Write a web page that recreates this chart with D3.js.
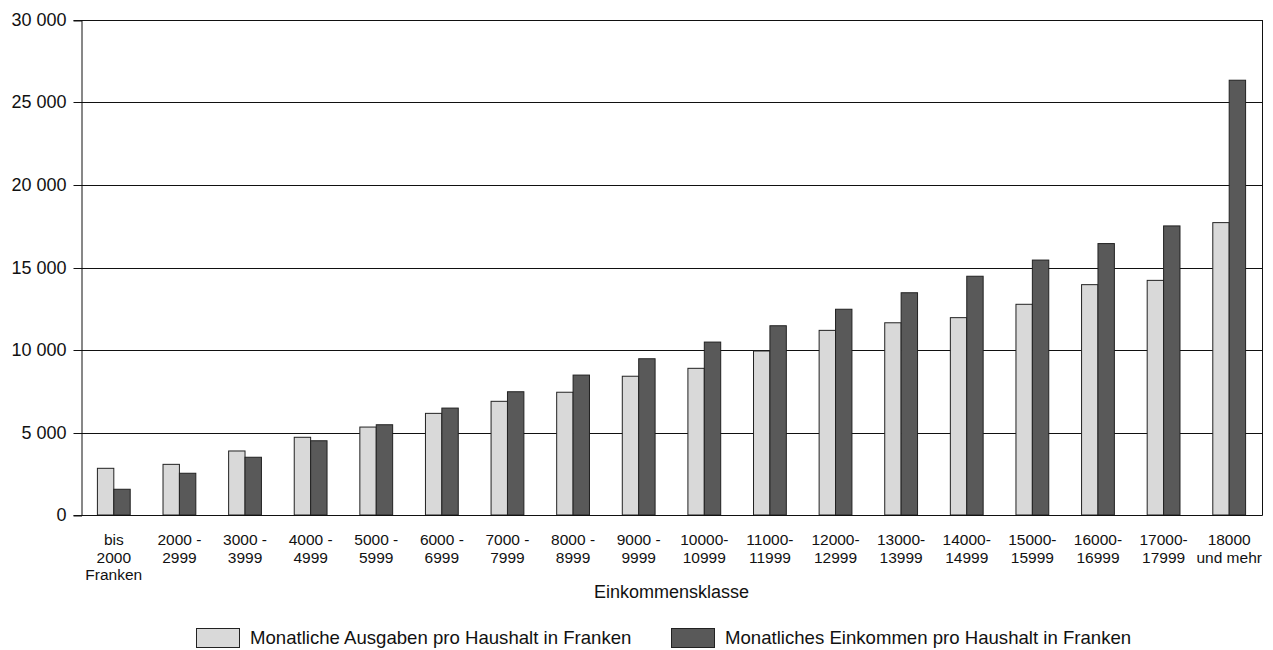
<!DOCTYPE html>
<html>
<head>
<meta charset="utf-8">
<script src="https://cdn.jsdelivr.net/npm/d3@7"></script>
<style>
  html, body { margin: 0; padding: 0; background: #fff; }
  svg { display: block; font-family: "Liberation Sans", Arial, Helvetica, sans-serif; }
</style>
</head>
<body>
<svg id="chart" width="1273" height="650"></svg>
<script>
const categories = [
  ["bis", "2000", "Franken"], ["2000 -", "2999"], ["3000 -", "3999"], ["4000 -", "4999"],
  ["5000 -", "5999"], ["6000 -", "6999"], ["7000 -", "7999"], ["8000 -", "8999"],
  ["9000 -", "9999"], ["10000-", "10999"], ["11000-", "11999"], ["12000-", "12999"],
  ["13000-", "13999"], ["14000-", "14999"], ["15000-", "15999"], ["16000-", "16999"],
  ["17000-", "17999"], ["18000", "und mehr"]
];
const ausgaben = [2830, 3070, 3880, 4710, 5330, 6160, 6890, 7440, 8410, 8890, 9940, 11190, 11650, 11960, 12770, 13960, 14220, 17720];
const einkommen = [1560, 2530, 3500, 4500, 5470, 6480, 7470, 8480, 9470, 10480, 11470, 12470, 13470, 14470, 15450, 16450, 17520, 26350];
const seriesNames = ["Monatliche Ausgaben pro Haushalt in Franken", "Monatliches Einkommen pro Haushalt in Franken"];
const yTicks = [0, 5000, 10000, 15000, 20000, 25000, 30000];
const xTitle = "Einkommensklasse";

const colors = ["#d9d9d9", "#595959"];
const svg = d3.select("#chart");
const L = 81, R = 1262, T = 20, B = 515;

const x = d3.scaleBand().domain(d3.range(categories.length)).range([L, R]).paddingInner(0.5).paddingOuter(0.25);
const x1 = d3.scaleBand().domain([0, 1]).range([0, x.bandwidth()]);
const y = d3.scaleLinear().domain([0, 30000]).range([B, T]);
const fmt = v => d3.format(",")(v).replace(/,/g, " ");

// gridlines
svg.append("g").selectAll("line").data(yTicks.filter(d => d > 0)).join("line")
  .attr("x1", L).attr("x2", R)
  .attr("y1", d => Math.round(y(d)) + 0.5).attr("y2", d => Math.round(y(d)) + 0.5)
  .attr("stroke", "#111").attr("stroke-width", 1);

// y axis
const yAxis = d3.axisLeft(y).tickValues(yTicks).tickFormat(fmt).tickSize(8).tickPadding(7);
const gy = svg.append("g").attr("transform", `translate(${L + 0.5},0.5)`).call(yAxis);
gy.select(".domain").attr("stroke", "#111");
gy.selectAll(".tick line").attr("stroke", "#111");
gy.selectAll(".tick text").attr("font-size", 18).attr("fill", "#111")
  .attr("font-family", "'Liberation Sans', Arial, sans-serif");
gy.selectAll(".tick").attr("transform", d => `translate(0,${Math.round(y(d))})`);

// right border
svg.append("line").attr("x1", R + 0.5).attr("x2", R + 0.5).attr("y1", T).attr("y2", B + 0.5)
  .attr("stroke", "#111");

// bars
const groups = svg.append("g").selectAll("g").data(categories).join("g")
  .attr("transform", (d, i) => `translate(${x(i)},0)`);
[ausgaben, einkommen].forEach((vals, s) => {
  groups.append("rect")
    .attr("x", (d, i) => x1(s))
    .attr("y", (d, i) => y(vals[i]))
    .attr("width", x1.bandwidth())
    .attr("height", (d, i) => B - y(vals[i]))
    .attr("fill", colors[s])
    .attr("stroke", "#222")
    .attr("stroke-width", 1);
});

// x axis line
svg.append("line").attr("x1", L).attr("x2", R + 0.5).attr("y1", B + 0.5).attr("y2", B + 0.5)
  .attr("stroke", "#111").attr("stroke-width", 1.2);

// x labels
const xl = svg.append("g").selectAll("text").data(categories).join("text")
  .attr("x", (d, i) => x(i) + x.bandwidth() / 2)
  .attr("y", 545)
  .attr("text-anchor", "middle")
  .attr("font-size", 15.5)
  .attr("fill", "#111");
xl.selectAll("tspan").data(d => d).join("tspan")
  .attr("x", function () { return d3.select(this.parentNode).attr("x"); })
  .attr("dy", (d, i) => i === 0 ? 0 : 17.5)
  .text(d => d);

// x title
svg.append("text").attr("x", (L + R) / 2).attr("y", 598).attr("text-anchor", "middle")
  .attr("font-size", 18).attr("fill", "#111").text(xTitle);

// legend
const legendX = [196, 671];
const lg = svg.append("g").selectAll("g").data(seriesNames).join("g")
  .attr("transform", (d, i) => `translate(${legendX[i]},628)`);
lg.append("rect").attr("x", 0.5).attr("y", 0.5).attr("width", 43).attr("height", 19)
  .attr("fill", (d, i) => colors[i]).attr("stroke", "#222");
lg.append("text").attr("x", 54).attr("y", 15.5).attr("font-size", 18.6).attr("fill", "#111")
  .text(d => d);
</script>
</body>
</html>
